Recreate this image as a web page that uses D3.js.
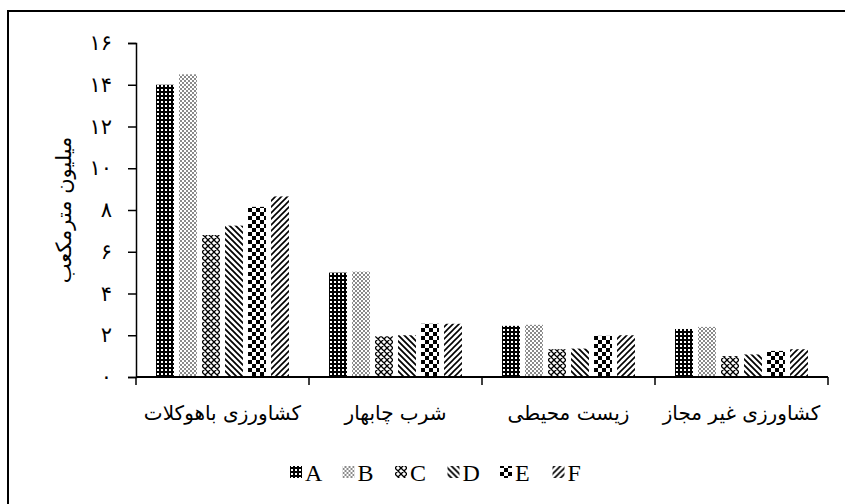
<!DOCTYPE html>
<html>
<head>
<meta charset="utf-8">
<script src="https://cdn.jsdelivr.net/npm/d3@7"></script>
<style>
  html, body { margin: 0; padding: 0; background: #fff; }
  svg { display: block; }
</style>
</head>
<body>
<svg id="chart" width="845" height="504"></svg>
<script>
// Water allocation per use (million cubic metres), six scenarios A–F
const categories = ["کشاورزی باهوکلات", "شرب چابهار", "زیست محیطی", "کشاورزی غیر مجاز"];
const seriesNames = ["A", "B", "C", "D", "E", "F"];
const valuesA = [14.0, 5.0, 2.45, 2.3];
const valuesB = [14.5, 5.05, 2.5, 2.4];
const valuesC = [6.8, 1.95, 1.33, 1.0];
const valuesD = [7.25, 2.0, 1.36, 1.08];
const valuesE = [8.15, 2.55, 1.97, 1.25];
const valuesF = [8.65, 2.55, 2.0, 1.33];
const seriesValues = [valuesA, valuesB, valuesC, valuesD, valuesE, valuesF];
const yTicks = [0, 2, 4, 6, 8, 10, 12, 14, 16];
const yTitle = "میلیون مترمکعب";

const faDigits = "۰۱۲۳۴۵۶۷۸۹";
const toFa = n => String(n).replace(/\d/g, d => faDigits[+d]);

const svg = d3.select("#chart");
const defs = svg.append("defs");

// Monochrome fill patterns, one per series
function pattern(id, size, draw) {
  const p = defs.append("pattern")
    .attr("id", id)
    .attr("patternUnits", "userSpaceOnUse")
    .attr("width", size).attr("height", size);
  draw(p, size);
}
pattern("pA", 4, (p) => {
  p.append("rect").attr("width", 4).attr("height", 4).attr("fill", "#000");
  p.append("rect").attr("x", 1).attr("y", 1).attr("width", 2).attr("height", 2).attr("fill", "#fff");
});
pattern("pB", 4, (p) => {
  p.append("rect").attr("width", 4).attr("height", 4).attr("fill", "#fff");
  p.append("rect").attr("width", 2).attr("height", 2).attr("fill", "#8a8a8a");
  p.append("rect").attr("x", 2).attr("y", 2).attr("width", 2).attr("height", 2).attr("fill", "#8a8a8a");
});
pattern("pC", 6, (p) => {
  p.append("rect").attr("width", 6).attr("height", 6).attr("fill", "#fff");
  p.append("path").attr("d", "M0,0L6,6M6,0L0,6M-1,5L1,7M5,-1L7,1M-1,1L1,-1M5,7L7,5")
    .attr("stroke", "#000").attr("stroke-width", 1.3).attr("fill", "none");
});
pattern("pD", 6, (p) => {
  p.append("rect").attr("width", 6).attr("height", 6).attr("fill", "#fff");
  p.append("path").attr("d", "M0,0L6,6M-3,3L3,9M3,-3L9,3")
    .attr("stroke", "#000").attr("stroke-width", 1.8).attr("fill", "none");
});
pattern("pE", 8, (p) => {
  p.append("rect").attr("width", 8).attr("height", 8).attr("fill", "#fff");
  p.append("rect").attr("width", 4).attr("height", 4).attr("fill", "#000");
  p.append("rect").attr("x", 4).attr("y", 4).attr("width", 4).attr("height", 4).attr("fill", "#000");
});
pattern("pF", 6, (p) => {
  p.append("rect").attr("width", 6).attr("height", 6).attr("fill", "#fff");
  p.append("path").attr("d", "M0,6L6,0M-3,3L3,-3M3,9L9,3")
    .attr("stroke", "#000").attr("stroke-width", 1.6).attr("fill", "none");
});
const fills = ["url(#pA)", "url(#pB)", "url(#pC)", "url(#pD)", "url(#pE)", "url(#pF)"];

// Outer frame
svg.append("rect")
  .attr("x", 8).attr("y", 11).attr("width", 900).attr("height", 600)
  .attr("fill", "none").attr("stroke", "#000").attr("stroke-width", 2);

const plot = { left: 136, right: 828, top: 43, bottom: 377 };

const x = d3.scaleBand().domain(categories).range([plot.left, plot.right]).padding(0);
const xs = d3.scaleBand().domain(seriesNames).range([0, x.bandwidth()])
  .paddingInner(0.22).paddingOuter(0.87);
const y = d3.scaleLinear().domain([0, 16]).range([plot.bottom, plot.top]);

// Bars
const groups = svg.append("g").selectAll("g")
  .data(categories).join("g")
  .attr("transform", c => `translate(${x(c)},0)`);
groups.selectAll("rect")
  .data((c, ci) => seriesNames.map((s, si) => ({ s, si, v: seriesValues[si][ci] })))
  .join("rect")
  .attr("x", d => xs(d.s))
  .attr("width", xs.bandwidth())
  .attr("y", d => y(d.v))
  .attr("height", d => y(0) - y(d.v))
  .attr("fill", d => fills[d.si]);

// Y axis
const yAxis = svg.append("g")
  .attr("transform", `translate(${plot.left},0)`)
  .call(d3.axisLeft(y).tickValues(yTicks).tickFormat(toFa).tickSize(8).tickPadding(16));
yAxis.select(".domain").attr("stroke-width", 1.5);
yAxis.selectAll(".tick line").attr("stroke-width", 1.5);
yAxis.selectAll(".tick text")
  .attr("font-family", "'DejaVu Sans', serif")
  .attr("font-size", 21).attr("fill", "#000");

// X axis with ticks at category boundaries
const xAxisG = svg.append("g").attr("transform", `translate(0,${plot.bottom})`);
xAxisG.append("line")
  .attr("x1", plot.left).attr("x2", plot.right)
  .attr("stroke", "#000").attr("stroke-width", 2);
const bounds = categories.map(c => x(c)).concat([x(categories[categories.length - 1]) + x.bandwidth()]);
xAxisG.selectAll("line.tk").data(bounds).join("line")
  .attr("class", "tk")
  .attr("x1", d => d).attr("x2", d => d)
  .attr("y1", 0).attr("y2", 8)
  .attr("stroke", "#000").attr("stroke-width", 1.5);
xAxisG.selectAll("text").data(categories).join("text")
  .attr("x", c => x(c) + x.bandwidth() / 2)
  .attr("y", 43)
  .attr("text-anchor", "middle")
  .attr("direction", "rtl")
  .attr("font-family", "'DejaVu Sans', serif")
  .attr("font-size", 20)
  .text(c => c);

// Y title
svg.append("text")
  .attr("transform", `translate(71,${(plot.top + plot.bottom) / 2}) rotate(-90)`)
  .attr("text-anchor", "middle")
  .attr("direction", "rtl")
  .attr("font-family", "'DejaVu Sans', serif")
  .attr("font-size", 21)
  .text(yTitle);

// Legend
const legend = svg.append("g").attr("transform", "translate(290,0)");
const item = legend.selectAll("g").data(seriesNames).join("g")
  .attr("transform", (d, i) => `translate(${i * 52.5},0)`);
item.append("rect")
  .attr("x", 0).attr("y", 466).attr("width", 12).attr("height", 12)
  .attr("fill", (d, i) => fills[i]);
item.append("text")
  .attr("x", 15).attr("y", 481)
  .attr("font-family", "'Liberation Serif', serif")
  .attr("font-size", 24)
  .text(d => d);
</script>
</body>
</html>
